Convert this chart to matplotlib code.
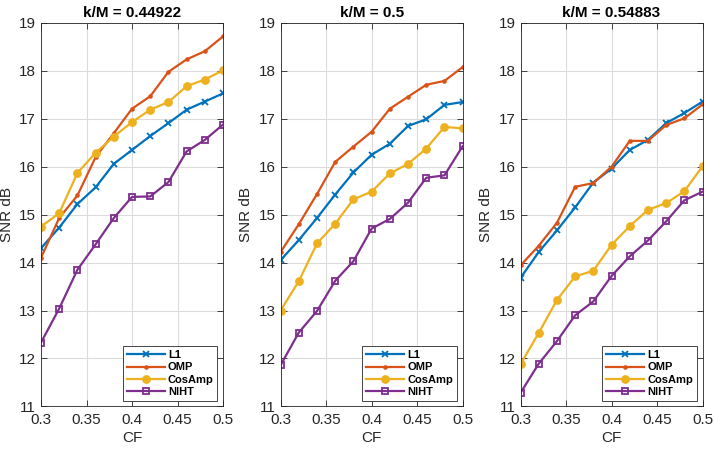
import matplotlib
matplotlib.use("Agg")
import matplotlib.pyplot as plt

cf = [0.30, 0.32, 0.34, 0.36, 0.38, 0.40, 0.42, 0.44, 0.46, 0.48, 0.50]
titles = ["k/M = 0.44922", "k/M = 0.5", "k/M = 0.54883"]
series_names = ["L1", "OMP", "CosAmp", "NIHT"]

l1_a = [14.30, 14.73, 15.22, 15.57, 16.06, 16.35, 16.64, 16.91, 17.19, 17.36, 17.53]
omp_a = [14.10, 14.93, 15.40, 16.20, 16.70, 17.21, 17.47, 17.98, 18.24, 18.41, 18.72]
cos_a = [14.75, 15.03, 15.87, 16.29, 16.63, 16.93, 17.19, 17.35, 17.68, 17.82, 18.01]
niht_a = [12.33, 13.04, 13.85, 14.38, 14.93, 15.37, 15.38, 15.68, 16.32, 16.56, 16.88]

l1_b = [14.05, 14.47, 14.93, 15.42, 15.88, 16.25, 16.48, 16.85, 16.99, 17.29, 17.35]
omp_b = [14.22, 14.80, 15.43, 16.10, 16.42, 16.73, 17.21, 17.46, 17.71, 17.79, 18.08]
cos_b = [13.00, 13.61, 14.40, 14.81, 15.32, 15.48, 15.86, 16.06, 16.38, 16.83, 16.80]
niht_b = [11.86, 12.54, 12.99, 13.62, 14.03, 14.71, 14.91, 15.25, 15.77, 15.82, 16.43]

l1_c = [13.68, 14.22, 14.67, 15.15, 15.67, 15.96, 16.35, 16.56, 16.91, 17.12, 17.36]
omp_c = [13.94, 14.35, 14.83, 15.58, 15.66, 16.00, 16.54, 16.54, 16.87, 17.01, 17.30]
cos_c = [11.88, 12.53, 13.22, 13.71, 13.83, 14.37, 14.76, 15.10, 15.24, 15.49, 16.01]
niht_c = [11.28, 11.89, 12.36, 12.90, 13.19, 13.72, 14.13, 14.46, 14.86, 15.30, 15.48]

panels = [
    [l1_a, omp_a, cos_a, niht_a],
    [l1_b, omp_b, cos_b, niht_b],
    [l1_c, omp_c, cos_c, niht_c],
]

xticks = [0.3, 0.35, 0.4, 0.45, 0.5]
xticklabels = ["0.3", "0.35", "0.4", "0.45", "0.5"]
yticks = [11, 12, 13, 14, 15, 16, 17, 18, 19]

colors = [(0, 0.447, 0.741), (0.85, 0.325, 0.098), (0.929, 0.694, 0.125), (0.494, 0.184, 0.556)]
markers = ["x", ".", "o", "s"]
msizes = [5, 4, 5, 5]
mfaces = [colors[0], colors[1], colors[2], "none"]

plt.rcParams['font.family'] = ['Liberation Sans', 'DejaVu Sans']

fig = plt.figure(figsize=(7.14, 4.5), dpi=100)
lefts = [0.0574, 0.393, 0.729]
width = 0.255
bottom = 0.097
height = 0.852
axc = (0.15, 0.15, 0.15)

for i, data in enumerate(panels):
    ax = fig.add_axes([lefts[i], bottom, width, height])
    for j, ys in enumerate(data):
        ax.plot(cf, ys, color=colors[j], marker=markers[j], markersize=msizes[j],
                markerfacecolor=mfaces[j], markeredgecolor=colors[j],
                markeredgewidth=1.3, linewidth=1.6, label=series_names[j])
    ax.set_xlim(0.3, 0.5)
    ax.set_ylim(11, 19)
    ax.set_xticks(xticks)
    ax.set_xticklabels(xticklabels)
    ax.set_yticks(yticks)
    ax.grid(True, color=(0.86, 0.86, 0.86), linewidth=0.8)
    ax.set_axisbelow(True)
    ax.tick_params(direction='in', top=True, right=True, labelsize=11,
                   colors=axc, length=4, width=0.6)
    ax.tick_params(axis='x', pad=5)
    for sp in ax.spines.values():
        sp.set_color(axc)
        sp.set_linewidth(0.6)
    ax.set_xlabel("CF", fontsize=11, color=axc, labelpad=3)
    ax.set_ylabel("SNR dB", fontsize=11, color=axc, labelpad=4)
    ax.set_title(titles[i], fontsize=11, fontweight='bold', color='black', pad=4)
    leg = ax.legend(loc='lower right', fontsize=8, frameon=True, fancybox=False,
                    edgecolor=axc, framealpha=1, borderpad=0.35, labelspacing=0.2,
                    handlelength=3.4, handletextpad=0.3, borderaxespad=0.5)
    leg.get_frame().set_linewidth(0.6)
    for t in leg.get_texts():
        t.set_fontweight('bold')

fig.savefig("out.png", dpi=100)
